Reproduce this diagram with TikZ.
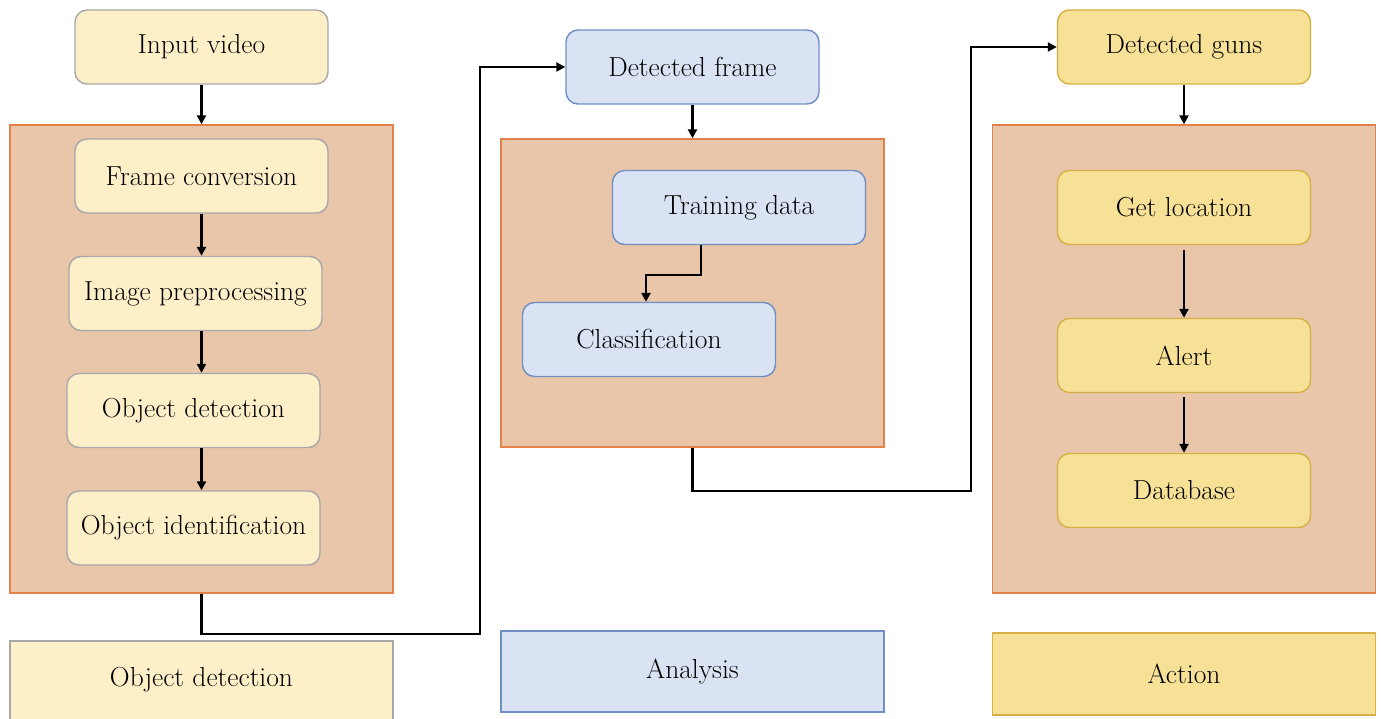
\documentclass[tikz,border=0pt]{standalone}
\usetikzlibrary{arrows.meta}
\definecolor{creamfill}{HTML}{FDF0C9}
\definecolor{creamline}{HTML}{A8A8A8}
\definecolor{peachfill}{HTML}{E9C5AA}
\definecolor{peachline}{HTML}{E2824A}
\definecolor{bluefill}{HTML}{DAE3F3}
\definecolor{blueline}{HTML}{6F8FC4}
\definecolor{goldfill}{HTML}{F7E196}
\definecolor{goldline}{HTML}{D6B045}
\begin{document}
\begin{tikzpicture}[x=1pt,y=-1pt,
  every node/.style={font=\fontsize{27.5}{32}\selectfont, text=black, inner sep=0pt},
  stagebox/.style={draw, line width=1.4pt, rounded corners=12pt, minimum width=253pt, minimum height=74pt},
  creambox/.style={stagebox, fill=creamfill, draw=creamline},
  bluebox/.style={stagebox, fill=bluefill, draw=blueline},
  goldbox/.style={stagebox, fill=goldfill, draw=goldline},
  panel/.style={fill=peachfill, draw=peachline, line width=1.4pt, minimum width=383pt},
  legendbox/.style={draw, line width=1.4pt, minimum width=383pt},
  arr/.style={line width=2.4pt, -{Triangle[length=9pt,width=9pt]}}
]
\clip (0,0) rectangle (1382,719);
\fill[white] (0,0) rectangle (1382,719);

% ---------- Object detection column ----------
\node[panel, minimum height=468pt] (pL) at (201.5,359) {};
\node[creambox] (iv) at (201.5,47) {Input video};
\node[creambox] (fc) at (201.5,176) {Frame conversion};
\node[creambox] (ip) at (195.5,293.5) {Image preprocessing};
\node[creambox] (od) at (193.5,410.5) {Object detection};
\node[creambox] (oi) at (193.5,528) {Object identification};
\node[legendbox, fill=creamfill, draw=creamline, minimum height=90pt] (lL) at (201.5,686) {};
\node at (201.5,680) {Object detection};

\draw[arr] (iv.south) -- (pL.north);
\draw[arr] (fc.south) -- (fc.south |- ip.north);
\draw[arr] (fc.south |- ip.south) -- (fc.south |- od.north);
\draw[arr] (fc.south |- od.south) -- (fc.south |- oi.north);

% ---------- Analysis column ----------
\node[panel, minimum height=308pt] (pM) at (692.5,293) {};
\node[bluebox] (df) at (692.5,67) {Detected frame};
\node[bluebox] (td) at (739,207.5) {Training data};
\node[bluebox] (cl) at (649,339.5) {Classification};
\node[legendbox, fill=bluefill, draw=blueline, minimum height=81pt] (lM) at (692.5,671.5) {Analysis};

\draw[arr] (df.south) -- (pM.north);
\draw[arr] ([xshift=-38pt]td.south) -- ++(0,30) -| ([xshift=-3pt]cl.north);

% ---------- Action column ----------
\node[panel, minimum height=468pt] (pR) at (1184,359) {};
\node[goldbox] (dg) at (1184,47) {Detected guns};
\node[goldbox] (gl) at (1184,207.5) {Get location};
\node[goldbox] (al) at (1184,355.5) {Alert};
\node[goldbox] (db) at (1184,490.5) {Database};
\node[legendbox, fill=goldfill, draw=goldline, minimum height=82pt] (lR) at (1184,674) {Action};

\draw[arr] (dg.south) -- (pR.north);
\draw[arr, shorten <=5pt] (gl.south) -- (al.north);
\draw[arr, shorten <=4pt] (al.south) -- (db.north);

% ---------- links between stages ----------
\coordinate (j1) at (480,634);
\coordinate (j2) at (971,491);
\draw[arr] (pL.south) |- (j1) |- (df.west);
\draw[arr] (pM.south) |- (j2) |- (dg.west);
\end{tikzpicture}
\end{document}
